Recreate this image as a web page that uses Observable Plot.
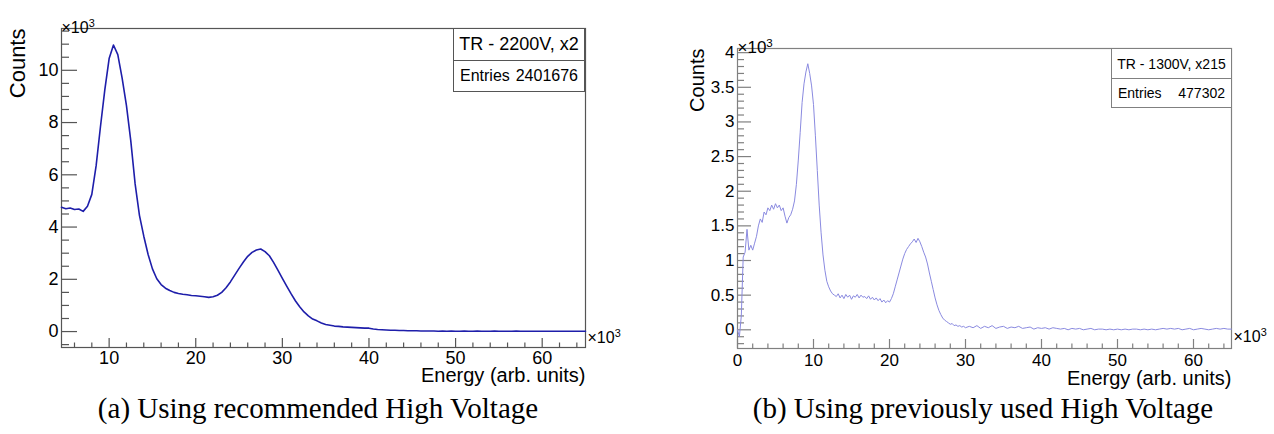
<!DOCTYPE html>
<html><head><meta charset="utf-8">
<script src="https://cdn.jsdelivr.net/npm/d3@7"></script>
<script src="https://cdn.jsdelivr.net/npm/@observablehq/plot@0.6"></script>
<style>
body{margin:0;background:#fff;}
#wrap{position:relative;width:1274px;height:434px;overflow:hidden;background:#fff;font-family:"Liberation Sans",Arial,Helvetica,sans-serif;}
.panel{position:absolute;top:0;}
.stats{position:absolute;box-sizing:border-box;border:1px solid #555;background:#fff;color:#000;}
.stats .row{display:flex;align-items:center;box-sizing:border-box;}
.stats .row1{justify-content:center;border-bottom:1px solid #555;}
.stats .row2{justify-content:space-between;}
.cap{position:absolute;font-family:"Liberation Serif","Times New Roman",serif;font-size:29px;line-height:29px;white-space:nowrap;text-align:center;color:#000;}
</style></head>
<body><div id="wrap"></div>
<script>
// ---------- Panel (a): recommended HV (values in units of 10^3) ----------
const energyA = [4.5,5,5.5,6,6.5,7,7.5,8,8.5,9,9.5,10,10.5,11,11.5,12,12.5,13,13.5,14,14.5,15,15.5,16,16.5,17,17.5,18,18.5,19,19.5,20,20.5,21,21.5,22,22.5,23,23.5,24,24.5,25,25.5,26,26.5,27,27.5,28,28.5,29,29.5,30,30.5,31,31.5,32,32.5,33,33.5,34,34.5,35,35.5,36,36.5,37,37.5,38,38.5,39,39.5,40,40.5,41,41.5,42,42.5,43,43.5,44,44.5,45,45.5,46,46.5,47,47.5,48,48.5,49,49.5,50,50.5,51,51.5,52,52.5,53,53.5,54,54.5,55,55.5,56,56.5,57,57.5,58,58.5,59,59.5,60,60.5,61,61.5,62,62.5,63,63.5,64,64.5,65];
const countsA = [4.76,4.70,4.73,4.67,4.69,4.60,4.80,5.25,6.35,7.85,9.25,10.45,10.97,10.60,9.70,8.65,7.30,5.65,4.45,3.65,2.95,2.40,2.02,1.80,1.66,1.57,1.50,1.46,1.43,1.41,1.38,1.37,1.35,1.33,1.31,1.33,1.39,1.50,1.68,1.90,2.16,2.42,2.66,2.88,3.03,3.12,3.16,3.06,2.90,2.64,2.34,2.04,1.74,1.45,1.18,0.95,0.75,0.60,0.48,0.41,0.33,0.27,0.24,0.21,0.20,0.18,0.17,0.16,0.15,0.14,0.13,0.13,0.10,0.08,0.07,0.06,0.05,0.05,0.04,0.04,0.03,0.03,0.03,0.02,0.02,0.02,0.02,0.01,0.02,0.01,0.02,0.01,0.01,0.02,0.01,0.01,0.02,0.01,0.01,0.01,0.02,0.01,0.01,0.01,0.01,0.02,0.01,0.01,0.01,0.01,0.01,0.01,0.01,0.01,0.01,0.01,0.01,0.01,0.01,0.01,0.01,0.01];
const xMajorA = [10,20,30,40,50,60];
const yMajorA = [0,2,4,6,8,10];

// ---------- Panel (b): previously used HV (values in units of 10^3) ----------
const energyB = [0,0.25,0.5,0.75,1,1.25,1.5,1.75,2,2.25,2.5,2.75,3,3.25,3.5,3.75,4,4.25,4.5,4.75,5,5.25,5.5,5.75,6,6.25,6.5,6.75,7,7.25,7.5,7.75,8,8.25,8.5,8.75,9,9.25,9.5,9.75,10,10.25,10.5,10.75,11,11.25,11.5,11.75,12,12.25,12.5,12.75,13,13.25,13.5,13.75,14,14.25,14.5,14.75,15,15.25,15.5,15.75,16,16.25,16.5,16.75,17,17.25,17.5,17.75,18,18.25,18.5,18.75,19,19.25,19.5,19.75,20,20.25,20.5,20.75,21,21.25,21.5,21.75,22,22.25,22.5,22.75,23,23.25,23.5,23.75,24,24.25,24.5,24.75,25,25.25,25.5,25.75,26,26.25,26.5,26.75,27,27.25,27.5,27.75,28,28.25,28.5,28.75,29,29.25,29.5,29.75,30,30.5,31,31.5,32,32.5,33,33.5,34,34.5,35,35.5,36,36.5,37,37.5,38,38.5,39,39.5,40,40.5,41,41.5,42,42.5,43,43.5,44,44.5,45,45.5,46,46.5,47,47.5,48,48.5,49,49.5,50,50.5,51,51.5,52,52.5,53,53.5,54,54.5,55,55.5,56,56.5,57,57.5,58,58.5,59,59.5,60,60.5,61,61.5,62,62.5,63,63.5,64,64.5,65];
const countsB = [0.00,-0.10,0.20,1.05,1.12,1.45,1.15,1.22,1.15,1.25,1.35,1.50,1.60,1.55,1.70,1.66,1.76,1.72,1.80,1.74,1.82,1.76,1.80,1.72,1.76,1.64,1.54,1.62,1.66,1.74,1.86,2.10,2.45,2.85,3.28,3.55,3.72,3.84,3.70,3.52,3.25,2.80,2.30,1.80,1.40,1.08,0.86,0.70,0.62,0.56,0.52,0.50,0.48,0.52,0.46,0.50,0.45,0.51,0.47,0.50,0.44,0.49,0.47,0.51,0.46,0.50,0.47,0.48,0.45,0.49,0.44,0.47,0.43,0.46,0.42,0.45,0.40,0.43,0.39,0.42,0.40,0.45,0.52,0.62,0.72,0.82,0.92,1.02,1.10,1.16,1.20,1.24,1.27,1.31,1.26,1.32,1.27,1.20,1.12,1.05,0.95,0.82,0.70,0.58,0.46,0.36,0.28,0.22,0.17,0.14,0.12,0.10,0.08,0.09,0.06,0.07,0.05,0.06,0.04,0.05,0.03,0.05,0.03,0.06,0.02,0.05,0.03,0.06,0.02,0.04,0.05,0.02,0.04,0.03,0.05,0.02,0.03,0.04,0.01,0.03,0.02,0.03,0.01,0.03,0.02,0.01,0.02,0.00,0.02,0.01,0.02,0.00,0.01,0.02,0.00,0.01,0.01,0.00,0.01,0.00,0.01,0.00,0.01,0.00,0.01,0.01,0.00,0.01,0.00,0.01,0.00,0.01,0.02,0.01,0.02,0.01,0.02,0.00,0.01,0.02,0.00,0.01,0.02,0.01,0.00,0.01,0.02,0.01,0.02,0.01,0.01];
const xMajorB = [0,10,20,30,40,50,60];
const yMajorB = [0,0.5,1,1.5,2,2.5,3,3.5,4];

const EXP_LABEL = "\u00d710";   // "×10" followed by a superscript 3
const EXP_SUP = "3";

const panels = [
  {id:"a", left:0, width:637, height:390, mL:61, mR:52, mT:28, mB:43,
   xDomain:[4.5,65], yDomain:[-0.61,11.6], energy:energyA, counts:countsA,
   xMajor:xMajorA, xMinorStep:2, yMajor:yMajorA, yMinorStep:0.5,
   color:"#1e1eaa", sw:1.6, axisColor:"#555", tickFont:18, yMajLen:16, yMinLen:8,
   countsFont:22, countsDx:-52, topExpDy:-7, topExpFont:16, botExpDy:-5, botExpFont:16,
   energyDy:20, xPad:4,
   stats:{left:453, top:28, w:132, h1:32, h2:32, t1:"TR - 2200V, x2", f1:18, e1:"Entries", e2:"2401676", f2:16},
   caption:{text:"(a) Using recommended High Voltage", center:318}},
  {id:"b", left:660, width:614, height:390, mL:77, mR:43, mT:48, mB:42,
   xDomain:[0,65], yDomain:[-0.27,4.06], energy:energyB, counts:countsB,
   xMajor:xMajorB, xMinorStep:2, yMajor:yMajorB, yMinorStep:0.1,
   color:"#8a8ae0", sw:1, axisColor:"#808080", tickFont:17, yMajLen:14, yMinLen:7,
   countsFont:20, countsDx:-48, topExpDy:-7.5, topExpFont:17, botExpDy:-7, botExpFont:16,
   energyDy:22, xPad:5,
   stats:{left:1111, top:48, w:121, h1:30, h2:30, t1:"TR - 1300V, x215", f1:14, e1:"Entries", e2:"477302", f2:14},
   caption:{text:"(b) Using previously used High Voltage", center:983}}
];

const wrap = document.getElementById("wrap");

for (const p of panels) {
  const data = p.energy.map((e, i) => ({e, c: p.counts[i]}));
  const fw = p.width - p.mL - p.mR;
  const fh = p.height - p.mT - p.mB;
  const xMinor = d3.range(Math.ceil(p.xDomain[0] / p.xMinorStep) * p.xMinorStep, p.xDomain[1] + 1e-9, p.xMinorStep)
    .filter(v => !p.xMajor.some(m => Math.abs(m - v) < 1e-9));
  const yMinor = d3.range(Math.ceil(p.yDomain[0] / p.yMinorStep) * p.yMinorStep, p.yDomain[1] + 1e-9, p.yMinorStep)
    .map(v => Math.round(v * 1000) / 1000)
    .filter(v => !p.yMajor.some(m => Math.abs(m - v) < 1e-9));

  const chart = Plot.plot({
    width: p.width, height: p.height,
    marginLeft: p.mL, marginRight: p.mR, marginTop: p.mT, marginBottom: p.mB,
    style: {fontFamily: '"Liberation Sans", Arial, Helvetica, sans-serif', fontSize: p.tickFont + "px", color: "#000", background: "transparent", overflow: "visible"},
    x: {domain: p.xDomain, label: null},
    y: {domain: p.yDomain, label: null},
    marks: [
      Plot.frame({stroke: p.axisColor, strokeWidth: 1.2}),
      Plot.tickY(p.yMajor, {y: d => d, stroke: p.axisColor, strokeWidth: 1.2, insetRight: fw - p.yMajLen}),
      Plot.tickY(yMinor, {y: d => d, stroke: p.axisColor, strokeWidth: 1.2, insetRight: fw - p.yMinLen}),
      Plot.tickX(p.xMajor, {x: d => d, stroke: p.axisColor, strokeWidth: 1.2, insetTop: fh - 9}),
      Plot.tickX(xMinor, {x: d => d, stroke: p.axisColor, strokeWidth: 1.2, insetTop: fh - 4.5}),
      Plot.axisY({ticks: p.yMajor, tickSize: 0, tickPadding: 3, label: null, tickFormat: d => String(d), fill: "#000"}),
      Plot.axisX({ticks: p.xMajor, tickSize: 0, tickPadding: p.xPad, label: null, tickFormat: d => String(d), fill: "#000"}),
      Plot.line(data, {x: "e", y: "c", stroke: p.color, strokeWidth: p.sw, curve: "linear"}),
      Plot.text(["Counts"], {frameAnchor: "top-left", rotate: -90, textAnchor: "end", dx: p.countsDx, fontSize: p.countsFont, fill: "#000"}),
      Plot.text([EXP_LABEL], {frameAnchor: "top-left", textAnchor: "start", dy: p.topExpDy, fontSize: p.topExpFont, fill: "#000"}),
      Plot.text([EXP_LABEL], {frameAnchor: "bottom-right", textAnchor: "start", dx: 2, dy: p.botExpDy, fontSize: p.botExpFont, fill: "#000"}),
      Plot.text(["Energy (arb. units)"], {frameAnchor: "bottom-right", textAnchor: "end", lineAnchor: "top", dy: p.energyDy, fontSize: 20, fill: "#000"})
    ]
  });
  // add a raised "3" after each ×10 label
  chart.querySelectorAll("text").forEach(t => {
    if (t.textContent === EXP_LABEL) {
      const ts = document.createElementNS("http://www.w3.org/2000/svg", "tspan");
      ts.textContent = EXP_SUP;
      ts.setAttribute("dy", "-0.5em");
      ts.setAttribute("font-size", "0.68em");
      t.appendChild(ts);
    }
  });
  const holder = document.createElement("div");
  holder.className = "panel";
  holder.style.left = p.left + "px";
  holder.appendChild(chart);
  wrap.appendChild(holder);

  // stats box
  const s = p.stats;
  const box = document.createElement("div");
  box.className = "stats";
  box.style.left = s.left + "px";
  box.style.top = s.top + "px";
  box.style.width = s.w + "px";
  box.style.borderColor = p.axisColor;
  const r1 = document.createElement("div");
  r1.className = "row row1";
  r1.style.height = s.h1 + "px";
  r1.style.fontSize = s.f1 + "px";
  r1.style.borderBottomColor = p.axisColor;
  r1.textContent = s.t1;
  const r2 = document.createElement("div");
  r2.className = "row row2";
  r2.style.height = (s.h2 - 2) + "px";
  r2.style.fontSize = s.f2 + "px";
  r2.style.padding = "0 6px";
  const a1 = document.createElement("span"); a1.textContent = s.e1;
  const a2 = document.createElement("span"); a2.textContent = s.e2;
  r2.appendChild(a1); r2.appendChild(a2);
  box.appendChild(r1); box.appendChild(r2);
  wrap.appendChild(box);

  // caption
  const cap = document.createElement("div");
  cap.className = "cap";
  cap.textContent = p.caption.text;
  cap.style.top = "394px";
  cap.style.left = (p.caption.center - 300) + "px";
  cap.style.width = "600px";
  wrap.appendChild(cap);
}
</script>
</body></html>
